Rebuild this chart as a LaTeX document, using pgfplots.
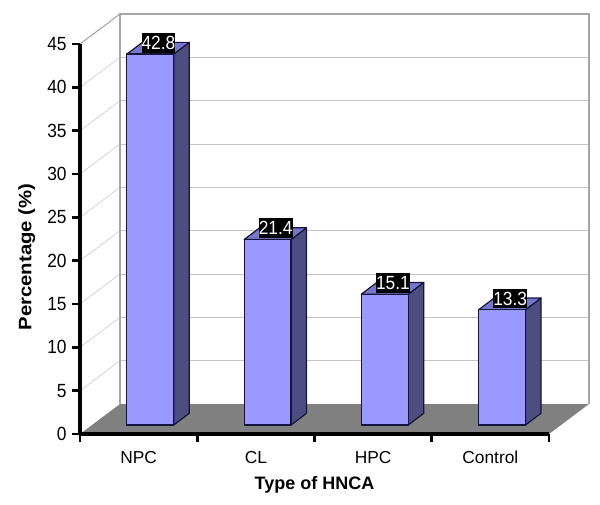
\documentclass[border=0pt]{standalone}
\usepackage{fontspec}
\setmainfont{Liberation Sans}
\usepackage{pgfplots}
\pgfplotsset{compat=1.18}

\definecolor{barfront}{HTML}{9999FF}
\definecolor{barside}{HTML}{4D4D80}
\definecolor{bartop}{HTML}{7777CC}
\definecolor{barline}{HTML}{14143C}
\definecolor{floorgray}{HTML}{808080}
\definecolor{wallgray}{HTML}{A6A6A6}
\definecolor{gridgray}{HTML}{C4C4C4}

\pgfplotsset{
  backgrid/.style={gridgray, line width=0.75pt},
  sidegrid/.style={gridgray, line width=0.4pt},
  barface/.style={draw=barline, line width=0.9pt, line join=round},
}

% one 3D bar: slot (0-3), value
\newcommand{\hncabar}[2]{%
  \pgfmathsetmacro\hxl{#1+0.40}%
  \pgfmathsetmacro\hxr{#1+0.80}%
  \pgfmathsetmacro\hxbl{#1+0.532}%
  \pgfmathsetmacro\hxbr{#1+0.932}%
  \pgfmathsetmacro\hyt{#2+1.04}%
  \pgfmathsetmacro\hytb{#2+2.39}%
  \pgfmathsetmacro\hxc{#1+0.669}%
  \pgfmathsetmacro\hyc{#2+2.33}%
  \addplot[barface, fill=barside]
    coordinates {(\hxr,1.04) (\hxbr,2.39) (\hxbr,\hytb) (\hxr,\hyt)} -- cycle;
  \addplot[barface, fill=bartop]
    coordinates {(\hxl,\hyt) (\hxr,\hyt) (\hxbr,\hytb) (\hxbl,\hytb)} -- cycle;
  \addplot[barface, fill=barfront]
    coordinates {(\hxl,1.04) (\hxr,1.04) (\hxr,\hyt) (\hxl,\hyt)} -- cycle;
  \addplot[draw=none, nodes near coords={#2},
    every node near coord/.style={anchor=center, fill=black, text=white,
      font=\fontsize{13}{13}\selectfont, inner xsep=0pt, inner ysep=0.6pt,
      minimum height=13.5pt, yscale=1.1}]
    coordinates {(\hxc,\hyc)};
}

\begin{document}
\begin{tikzpicture}
\path[use as bounding box] (-60pt,-52.5pt) rectangle (390pt,325.5pt);
\begin{axis}[
    scale only axis,
    width=351.75pt, height=292.5pt,
    xmin=0, xmax=4,
    ymin=0, ymax=45,
    clip=false,
    axis on top,
    axis lines=left,
    axis line style={-, line width=2.5pt, black},
    xtick={0,1,2,3,4},
    xticklabels={NPC,CL,HPC,Control},
    x tick label as interval,
    ytick={0,5,10,15,20,25,30,35,40,45},
    tick align=outside,
    major tick length=6pt,
    tick style={line width=2.2pt, black},
    /pgf/number format/assume math mode=true,
    tick label style={font=\fontsize{13}{15}\selectfont},
    xticklabel style={yshift=-3.5pt},
    yticklabel style={xshift=-0.5pt, yscale=1.1},
    xlabel={Type of HNCA},
    ylabel={Percentage (\%)},
    label style={font=\fontsize{13.5}{15}\selectfont\bfseries},
    xlabel style={at={(axis description cs:0.5,0)}, anchor=center, yshift=-38.5pt},
    ylabel style={at={(axis description cs:0,0.454)}, anchor=center, yshift=40pt, xscale=1.13},
]

% floor
\addplot[draw=none, fill=floorgray] coordinates {(0,0) (4,0) (4.341,3.46) (0.341,3.46)} -- cycle;

% side wall grid
\addplot[sidegrid] coordinates {(0,5) (0.341,8.46)};
\addplot[sidegrid] coordinates {(0,10) (0.341,13.46)};
\addplot[sidegrid] coordinates {(0,15) (0.341,18.46)};
\addplot[sidegrid] coordinates {(0,20) (0.341,23.46)};
\addplot[sidegrid] coordinates {(0,25) (0.341,28.46)};
\addplot[sidegrid] coordinates {(0,30) (0.341,33.46)};
\addplot[sidegrid] coordinates {(0,35) (0.341,38.46)};
\addplot[sidegrid] coordinates {(0,40) (0.341,43.46)};

% back wall grid
\addplot[backgrid] coordinates {(0.341,8.46) (4.341,8.46)};
\addplot[backgrid] coordinates {(0.341,13.46) (4.341,13.46)};
\addplot[backgrid] coordinates {(0.341,18.46) (4.341,18.46)};
\addplot[backgrid] coordinates {(0.341,23.46) (4.341,23.46)};
\addplot[backgrid] coordinates {(0.341,28.46) (4.341,28.46)};
\addplot[backgrid] coordinates {(0.341,33.46) (4.341,33.46)};
\addplot[backgrid] coordinates {(0.341,38.46) (4.341,38.46)};
\addplot[backgrid] coordinates {(0.341,43.46) (4.341,43.46)};

% wall outline
\addplot[wallgray, line width=1.1pt] coordinates {(0.341,3.46) (0.341,48.46) (4.341,48.46) (4.341,3.46)};
\addplot[wallgray, line width=0.8pt] coordinates {(0,45) (0.341,48.46)};

\hncabar{0}{42.8}
\hncabar{1}{21.4}
\hncabar{2}{15.1}
\hncabar{3}{13.3}

\end{axis}
\end{tikzpicture}
\end{document}
